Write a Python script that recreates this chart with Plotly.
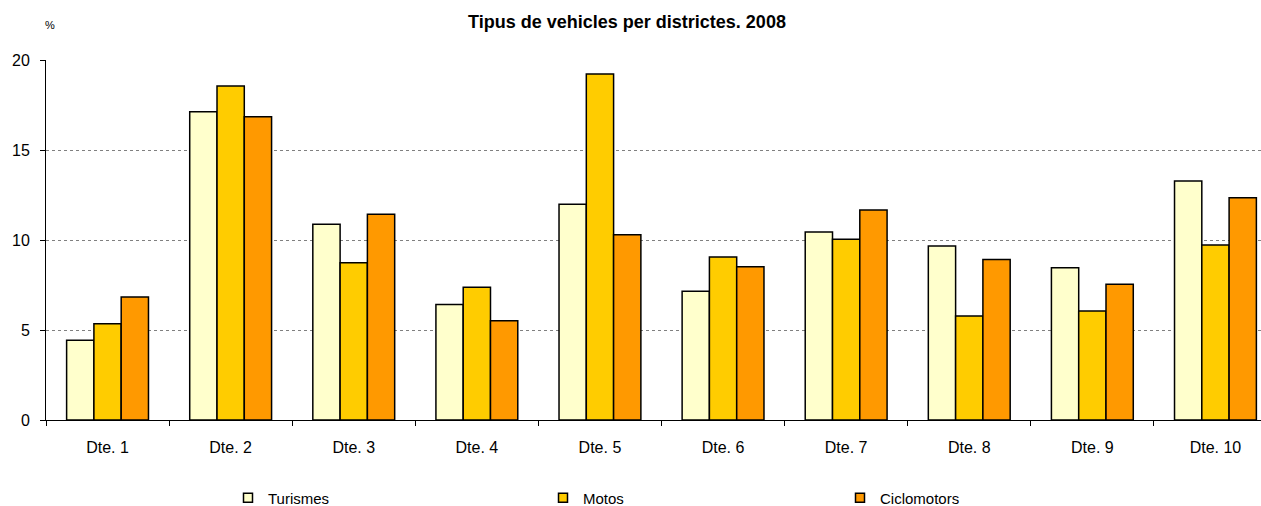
import plotly.graph_objects as go

categories = ["Dte. 1", "Dte. 2", "Dte. 3", "Dte. 4", "Dte. 5",
              "Dte. 6", "Dte. 7", "Dte. 8", "Dte. 9", "Dte. 10"]
turismes = [4.43, 17.13, 10.87, 6.41, 11.98, 7.15, 10.44, 9.67, 8.46, 13.28]
motos = [5.35, 18.56, 8.74, 7.37, 19.22, 9.06, 10.04, 5.78, 6.06, 9.72]
ciclomotors = [6.83, 16.85, 11.43, 5.52, 10.29, 8.52, 11.67, 8.91, 7.54, 12.35]

series = [
    ("Turismes", turismes, "#FFFFCC"),
    ("Motos", motos, "#FFCC00"),
    ("Ciclomotors", ciclomotors, "#FF9900"),
]

FONT = "Liberation Sans, Arial, sans-serif"
W, H, TOP = 1261, 506, 60
PH = H - TOP  # paper height (bottom margin 0)

def py(pix):
    """pixel y (from top of figure) -> paper fraction"""
    return (H - pix) / PH

fig = go.Figure()
for name, vals, col in series:
    fig.add_trace(go.Bar(
        x=categories, y=vals, name=name, showlegend=False,
        marker=dict(color=col, line=dict(color="black", width=1.5)),
    ))

legend_ids = ["legend", "legend2", "legend3"]
legend_px = [228, 543, 840]
for (name, vals, col), lid in zip(series, legend_ids):
    fig.add_trace(go.Scatter(
        x=[None], y=[None], mode="markers", name=name, legend=lid,
        marker=dict(symbol="square", size=9, color=col,
                    line=dict(color="black", width=1.5)),
    ))

leg_common = dict(orientation="h", xanchor="left", yanchor="middle",
                  y=py(498), itemwidth=30,
                  font=dict(size=15, family=FONT))

fig.update_layout(
    width=W, height=H,
    margin=dict(l=46, r=0, t=TOP, b=0, autoexpand=False),
    paper_bgcolor="white", plot_bgcolor="white",
    barmode="group", bargap=0.335, bargroupgap=0,
    font=dict(family=FONT, size=15, color="black"),
    title=dict(text="<b>Tipus de vehicles per districtes. 2008</b>",
               x=627/W, xanchor="center", xref="container",
               y=1 - 22/H, yanchor="middle", yref="container",
               font=dict(size=18, family=FONT, color="black")),
    showlegend=True,
    legend=dict(x=(legend_px[0]-46)/1215, **leg_common),
    legend2=dict(x=(legend_px[1]-46)/1215, **leg_common),
    legend3=dict(x=(legend_px[2]-46)/1215, **leg_common),
    annotations=[dict(text="%", xref="paper", yref="paper",
                      x=(50-46)/1215, y=py(25),
                      xanchor="center", yanchor="middle",
                      showarrow=False, font=dict(size=11, family=FONT,
                                                 color="black"))],
)

fig.update_xaxes(
    range=[-0.5, 9.37],
    showline=True, linecolor="black", linewidth=1,
    ticks="outside", tickson="boundaries", ticklen=5, tickcolor="black",
    ticklabelstandoff=13, tickfont=dict(size=16, family=FONT),
    showgrid=False, mirror=False,
)
fig.update_yaxes(
    domain=[py(420), 1],
    range=[0, 20], dtick=5, tick0=0,
    showline=True, linecolor="black", linewidth=1,
    ticks="outside", ticklen=5, tickcolor="black",
    ticklabelstandoff=7,
    tickfont=dict(size=16, family=FONT),
    showgrid=True, gridcolor="#808080", gridwidth=1, griddash="dot",
    zeroline=False,
)

fig.write_html("out.html", config={"displayModeBar": False},
               post_script="document.body.style.margin='0';document.body.style.overflow='hidden';")
